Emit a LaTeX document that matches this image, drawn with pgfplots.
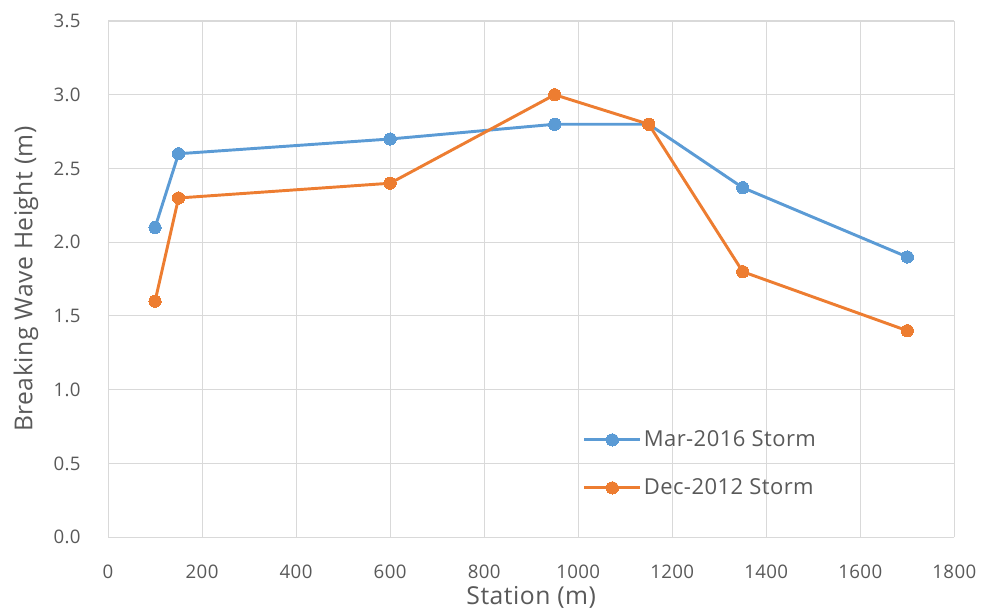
\documentclass[border=0pt]{standalone}
\usepackage{pgfplots}
\pgfplotsset{compat=1.18}
\usepackage{fontspec}
\setmainfont[LetterSpace=2]{Open Sans}

\definecolor{txtgray}{RGB}{89,89,89}
\definecolor{gridgray}{RGB}{217,217,217}
\definecolor{marblue}{RGB}{91,155,213}
\definecolor{decorange}{RGB}{237,125,49}

\pgfplotstableread{
station height
100  2.10
150  2.60
600  2.70
950  2.80
1150 2.80
1350 2.37
1700 1.90
}\marstorm

\pgfplotstableread{
station height
100  1.60
150  2.30
600  2.40
950  3.00
1150 2.80
1350 1.80
1700 1.40
}\decstorm

\begin{document}
\begin{tikzpicture}
\begin{axis}[
  scale only axis,
  width=634.5pt, height=387pt,
  xmin=0, xmax=1800, ymin=0, ymax=3.5,
  xtick={0,200,...,1800},
  ytick={0,0.5,...,3.5},
  /pgf/number format/assume math mode=true,
  yticklabel style={/pgf/number format/fixed,
    /pgf/number format/fixed zerofill,
    /pgf/number format/precision=1},
  xticklabel style={/pgf/number format/fixed,
    /pgf/number format/1000 sep={}},
  xticklabel shift=17pt,
  yticklabel shift=17pt,
  ticklabel style={font=\fontsize{14}{16}\selectfont, text=txtgray},
  tick style={draw=none},
  grid=major,
  major grid style={draw=gridgray, line width=0.8pt},
  axis x line*=bottom, axis y line*=left,
  axis line style={draw=gridgray, line width=0.8pt, -},
  xlabel={Station (m)},
  ylabel={Breaking Wave Height (m)},
  label style={font=\fontsize{18.5}{21}\selectfont, text=txtgray},
  xlabel style={at={(axis description cs:0.5,0)}, anchor=center,
    yshift=-45pt},
  ylabel style={at={(axis description cs:0,0.5)}, anchor=center,
    yshift=61.5pt},
  legend cell align=left,
  legend style={
    at={(0.556,0.142)}, anchor=west,
    draw=none, fill=none,
    font=\fontsize{16.5}{19}\selectfont, text=txtgray,
    row sep=19.5pt,
    nodes={inner sep=1.5pt},
  },
  legend image code/.code={
    \draw[#1, mark repeat=2, mark phase=2]
      plot coordinates {(0pt,0pt) (21pt,0pt) (42pt,0pt)};
  },
]
\addplot[color=marblue, line width=2.2pt, mark=*, mark size=4.6pt,
  mark options={fill=marblue, draw=marblue, line width=0pt}]
  table[x=station, y=height] {\marstorm};
\addlegendentry{Mar-2016 Storm}
\addplot[color=decorange, line width=2.2pt, mark=*, mark size=4.6pt,
  mark options={fill=decorange, draw=decorange, line width=0pt}]
  table[x=station, y=height] {\decstorm};
\addlegendentry{Dec-2012 Storm}
\end{axis}
\useasboundingbox ([shift={(-81pt,-54pt)}]current axis.south west)
  rectangle ([shift={(20pt,15.75pt)}]current axis.north east);
\end{tikzpicture}
\end{document}
